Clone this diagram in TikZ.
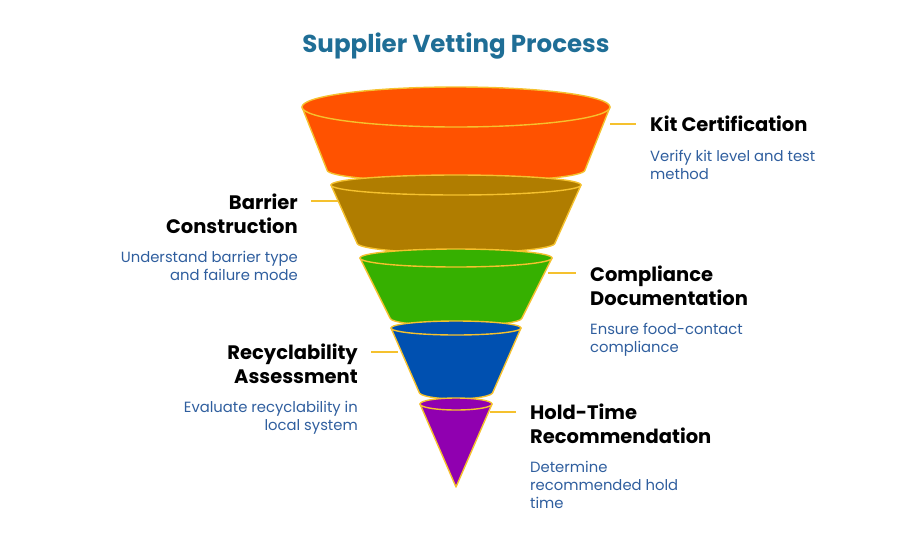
\documentclass[tikz,border=0pt]{standalone}
\usepackage{fontspec}
\setmainfont{Poppins}
\usetikzlibrary{positioning}
\definecolor{rim}{HTML}{F5C12E}
\definecolor{titleblue}{HTML}{1F6E96}
\definecolor{descblue}{HTML}{2F5E9E}
\definecolor{cOrange}{HTML}{FF5200}
\definecolor{cBrown}{HTML}{B07D00}
\definecolor{cGreen}{HTML}{36B000}
\definecolor{cBlue}{HTML}{0050B0}
\definecolor{cPurple}{HTML}{9000B0}
\begin{document}
\begin{tikzpicture}[x=1pt, y=-1pt,
    layer/.style={draw=rim, line width=1.4pt, line join=round},
    head/.style={font=\fontsize{19.5}{24}\selectfont\bfseries, inner sep=0pt},
    desc/.style={font=\fontsize{14.8}{18}\selectfont, text=descblue, inner sep=0pt},
    tick/.style={draw=rim, line width=1.2pt}]

    \useasboundingbox (0,0) rectangle (912,544);

    \node[font=\fontsize{24.5}{28}\selectfont\bfseries, text=titleblue] (title) at (456,46) {Supplier Vetting Process};

    % funnel layers: colour, top y, top half width, top ry, bottom y, bottom half width, bottom ry
    \foreach \col/\yt/\wt/\rt/\yb/\wb/\rb in {
        cOrange/107/154/20/170/129/12,
        cBrown/185/125/10/243/99/10,
        cGreen/258/96/9/318/66/8,
        cBlue/328/65/7/392/37/7}{
      \path[layer, fill=\col] (456-\wt,\yt) -- (456-\wb,\yb)
        arc[start angle=180, end angle=0, x radius=\wb, y radius=\rb] -- (456+\wt,\yt) -- cycle;
      \path[layer, fill=\col] (456,\yt) ellipse[x radius=\wt, y radius=\rt];
    }
    \path[layer, fill=cPurple] (420,404) -- (456,487) -- (492,404) -- cycle;
    \path[layer, fill=cPurple] (456,404) ellipse[x radius=36, y radius=6];

    % labels
    \node[head, anchor=north west] (kit) at (650,116) {Kit Certification};
    \node[desc, anchor=north west, align=left] (kitd) at (650,150) {Verify kit level and test\\method};

    \node[head, anchor=north east, align=right] (bar) at (298,194) {Barrier\\Construction};
    \node[desc, anchor=north east, align=right] (bard) at (298,251) {Understand barrier type\\and failure mode};

    \node[head, anchor=north west, align=left] (com) at (590,266) {Compliance\\Documentation};
    \node[desc, anchor=north west, align=left] (comd) at (590,323) {Ensure food-contact\\compliance};

    \node[head, anchor=north east, align=right] (rec) at (358,344) {Recyclability\\Assessment};
    \node[desc, anchor=north east, align=right] (recd) at (358,401) {Evaluate recyclability in\\local system};

    \node[head, anchor=north west, align=left] (hold) at (530,404) {Hold-Time\\Recommendation};
    \node[desc, anchor=north west, align=left] (holdd) at (530,461) {Determine\\recommended hold\\time};

    % leader lines
    \coordinate (kitA) at (610,124);  \coordinate (kitB) at (636,124);
    \coordinate (barA) at (338,201);  \coordinate (barB) at (311,201);
    \coordinate (comA) at (548,273);  \coordinate (comB) at (576,273);
    \coordinate (recA) at (398,352);  \coordinate (recB) at (371,352);
    \coordinate (holdA) at (490,412); \coordinate (holdB) at (516,412);
    \foreach \a/\b in {kitA/kitB, barA/barB, comA/comB, recA/recB, holdA/holdB}
      \draw[tick] (\a) -- (\b);

\end{tikzpicture}
\end{document}
